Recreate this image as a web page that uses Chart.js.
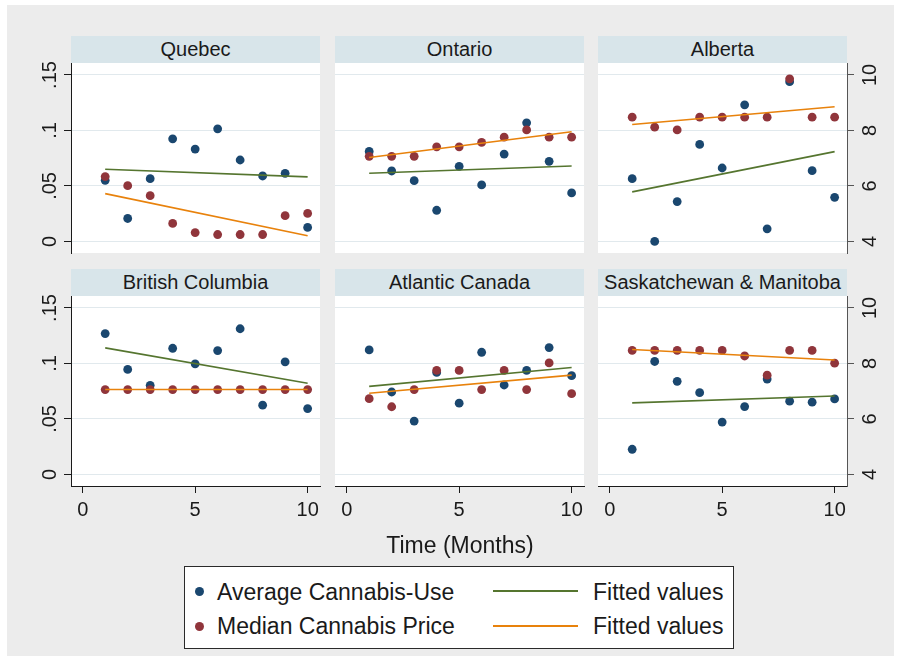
<!DOCTYPE html>
<html>
<head>
<meta charset="utf-8">
<script src="https://cdn.jsdelivr.net/npm/chart.js@4.4.1/dist/chart.umd.min.js"></script>
<style>
  html, body { margin: 0; padding: 0; background: #ffffff; width: 901px; height: 662px; overflow: hidden;
    font-family: "Liberation Sans", Arial, sans-serif; color: #1a1a1a; }
  #region { position: absolute; left: 7px; top: 5px; width: 887px; height: 651px; background: #ececec; }
  .strip { position: absolute; height: 27px; line-height: 27px; background: #d8e5ea; text-align: center;
    font-size: 20px; white-space: nowrap; }
  .panel { position: absolute; }
  .panel canvas { display: block; }
  #xtitle { position: absolute; left: 330px; width: 260px; top: 531.5px; line-height: 26px; font-size: 23px; text-align: center; }
  #legend { position: absolute; left: 184px; top: 566px; width: 550px; height: 83px; box-sizing: border-box;
    background: #ffffff; border: 1px solid #2a2a2a; }
  .key-dot { position: absolute; width: 9px; height: 9px; border-radius: 50%; }
  .key-line { position: absolute; height: 2px; width: 85px; }
  .key-text { position: absolute; line-height: 26px; font-size: 23px; white-space: nowrap; }
</style>
</head>
<body>
<div id="region"></div>
<div id="stage"></div>
<div id="xtitle">Time (Months)</div>
<div id="legend"></div>
<div class="key-dot" style="left:195px; top:586.5px; background:#1a476f"></div>
<div class="key-text" style="left:217px; top:578.8px">Average Cannabis-Use</div>
<div class="key-line" style="left:493px; top:590px; background:#55752f"></div>
<div class="key-text" style="left:593px; top:578.8px">Fitted values</div>
<div class="key-dot" style="left:195px; top:621.5px; background:#90353b"></div>
<div class="key-text" style="left:217px; top:613.1px">Median Cannabis Price</div>
<div class="key-line" style="left:493px; top:625px; background:#e8820c"></div>
<div class="key-text" style="left:593px; top:613.1px">Fitted values</div>

<script>
// ---- data -------------------------------------------------------------
const months = [1, 2, 3, 4, 5, 6, 7, 8, 9, 10];
const regions = ['Quebec', 'Ontario', 'Alberta', 'British Columbia', 'Atlantic Canada', 'Saskatchewan & Manitoba'];

// average cannabis use (left axis)
const useQuebec   = [0.0551, 0.0207, 0.0566, 0.0925, 0.0832, 0.1015, 0.0734, 0.0590, 0.0614, 0.0126];
const useOntario  = [0.0811, 0.0635, 0.0548, 0.0281, 0.0677, 0.0509, 0.0787, 0.1069, 0.0722, 0.0437];
const useAlberta  = [0.0566, 0.0000, 0.0359, 0.0874, 0.0662, 0.1231, 0.0114, 0.1440, 0.0638, 0.0398];
const useBC       = [0.1269, 0.0946, 0.0803, 0.1137, 0.0997, 0.1116, 0.1313, 0.0624, 0.1015, 0.0594];
const useAtlantic = [0.1122, 0.0743, 0.0481, 0.0919, 0.0642, 0.1101, 0.0806, 0.0937, 0.1143, 0.0890];
const useSaskMan  = [0.0227, 0.1018, 0.0839, 0.0737, 0.0472, 0.0612, 0.0860, 0.0660, 0.0651, 0.0681];

// median cannabis price (right axis)
const priceQuebec   = [6.34, 6.01, 5.65, 4.65, 4.32, 4.25, 4.25, 4.25, 4.93, 5.01];
const priceOntario  = [7.07, 7.07, 7.07, 7.41, 7.41, 7.57, 7.76, 8.02, 7.76, 7.76];
const priceAlberta  = [8.48, 8.12, 8.02, 8.48, 8.48, 8.48, 8.48, 9.86, 8.48, 8.48];
const priceBC       = [7.06, 7.06, 7.06, 7.06, 7.06, 7.06, 7.06, 7.06, 7.06, 7.06];
const priceAtlantic = [6.73, 6.44, 7.06, 7.75, 7.75, 7.06, 7.75, 7.06, 8.02, 6.91];
const priceSaskMan  = [8.47, 8.47, 8.47, 8.47, 8.47, 8.27, 7.58, 8.47, 8.47, 8.01];

// axis ticks
const monthTicks = [0, 5, 10];
const useTicks = [0, 0.05, 0.1, 0.15];
const useTickLabels = ['0', '.05', '.1', '.15'];
const priceTicks = [4, 6, 8, 10];
const priceTickLabels = ['4', '6', '8', '10'];

const useSeries = [useQuebec, useOntario, useAlberta, useBC, useAtlantic, useSaskMan];
const priceSeries = [priceQuebec, priceOntario, priceAlberta, priceBC, priceAtlantic, priceSaskMan];

// ---- styling / geometry ------------------------------------------------
const NAVY = '#1a476f', MAROON = '#90353b', GREEN = '#55752f', ORANGE = '#e8820c';
const GRID = '#e1e9ed', AXIS = '#1a1a1a', AXIS_R = '#555555', TEXT = '#1a1a1a';
const FONT = '"Liberation Sans", Arial, sans-serif';

const colLefts = [71, 335, 598];
const rowTops = [63, 296];
const plotW = 249, plotH = 190;
const MARGIN = { left: 70, right: 60, top: 10, bottom: 60 };
const X_AXIS_H = 40;

const X_MIN = -0.52, X_MAX = 10.55;
const USE_MIN = -0.0104, USE_MAX = 0.1608;
const PRICE_MIN = 4 + USE_MIN * 40, PRICE_MAX = 4 + USE_MAX * 40;

// least-squares line through (xs, ys), returned at the first and last x
function linearFit(xs, ys) {
  const n = xs.length;
  const mx = xs.reduce((a, b) => a + b, 0) / n;
  const my = ys.reduce((a, b) => a + b, 0) / n;
  let sxy = 0, sxx = 0;
  for (let i = 0; i < n; i++) { sxy += (xs[i] - mx) * (ys[i] - my); sxx += (xs[i] - mx) ** 2; }
  const b = sxy / sxx, a = my - b * mx;
  const x0 = xs[0], x1 = xs[n - 1];
  return [{ x: x0, y: a + b * x0 }, { x: x1, y: a + b * x1 }];
}

// white plot region behind the grid
const plotBackground = {
  id: 'plotBackground',
  beforeDraw(chart) {
    const { ctx, chartArea: a } = chart;
    ctx.save();
    ctx.fillStyle = '#ffffff';
    ctx.fillRect(a.left, a.top, a.right - a.left, a.bottom - a.top);
    ctx.restore();
  }
};

// vertical (rotated) y-axis tick labels
const verticalTickLabels = {
  id: 'verticalTickLabels',
  afterDraw(chart, args, opts) {
    const { ctx, chartArea: a } = chart;
    (opts.axes || []).forEach(ax => {
      const scale = chart.scales[ax.id];
      if (!scale) return;
      const x = ax.side === 'left' ? a.left - ax.offset : a.right + ax.offset;
      ctx.save();
      ctx.font = '20px ' + FONT;
      ctx.fillStyle = TEXT;
      ctx.textAlign = 'center';
      ctx.textBaseline = 'middle';
      scale.ticks.forEach((t, i) => {
        const y = scale.getPixelForValue(t.value);
        ctx.save();
        ctx.translate(x, y);
        ctx.rotate(-Math.PI / 2);
        ctx.fillText(ax.labels[i], 0, 0);
        ctx.restore();
      });
      ctx.restore();
    });
  }
};

const stage = document.getElementById('stage');

regions.forEach((name, k) => {
  const row = Math.floor(k / 3), col = k % 3;
  const left = colLefts[col], top = rowTops[row];
  const showX = row === 1;

  const strip = document.createElement('div');
  strip.className = 'strip';
  strip.style.left = left + 'px';
  strip.style.top = (top - 27) + 'px';
  strip.style.width = plotW + 'px';
  strip.textContent = name;
  stage.appendChild(strip);

  const box = document.createElement('div');
  box.className = 'panel';
  box.style.left = (left - MARGIN.left) + 'px';
  box.style.top = (top - MARGIN.top) + 'px';
  const cv = document.createElement('canvas');
  cv.width = MARGIN.left + plotW + MARGIN.right;
  cv.height = MARGIN.top + plotH + MARGIN.bottom;
  box.appendChild(cv);
  stage.appendChild(box);

  const use = useSeries[k], price = priceSeries[k];
  const sideAxes = [];
  if (col === 0) sideAxes.push({ id: 'y', side: 'left', offset: 21, labels: useTickLabels });
  if (col === 2) sideAxes.push({ id: 'y2', side: 'right', offset: 23, labels: priceTickLabels });

  const padding = {
    left: MARGIN.left, right: MARGIN.right, top: MARGIN.top,
    bottom: showX ? MARGIN.bottom - X_AXIS_H : MARGIN.bottom
  };

  new Chart(cv, {
    type: 'scatter',
    data: {
      datasets: [
        { type: 'scatter', label: 'Average Cannabis-Use', yAxisID: 'y', order: 4,
          data: months.map((m, i) => ({ x: m, y: use[i] })),
          backgroundColor: NAVY, borderWidth: 0, pointRadius: 4.4 },
        { type: 'scatter', label: 'Median Cannabis Price', yAxisID: 'y2', order: 3,
          data: months.map((m, i) => ({ x: m, y: price[i] })),
          backgroundColor: MAROON, borderWidth: 0, pointRadius: 4.4 },
        { type: 'line', label: 'Fitted values', yAxisID: 'y', order: 2,
          data: linearFit(months, use), borderColor: GREEN, borderWidth: 1.6, pointRadius: 0, fill: false },
        { type: 'line', label: 'Fitted values', yAxisID: 'y2', order: 1,
          data: linearFit(months, price), borderColor: ORANGE, borderWidth: 1.6, pointRadius: 0, fill: false }
      ]
    },
    options: {
      responsive: false,
      devicePixelRatio: 1,
      animation: false,
      events: [],
      layout: { padding },
      plugins: {
        legend: { display: false },
        tooltip: { enabled: false },
        verticalTickLabels: { axes: sideAxes }
      },
      scales: {
        x: {
          type: 'linear', min: X_MIN, max: X_MAX,
          display: showX,
          afterBuildTicks: s => { s.ticks = monthTicks.map(v => ({ value: v })); },
          afterFit: s => { s.height = showX ? X_AXIS_H : 0; },
          grid: { display: true, drawOnChartArea: false, drawTicks: true, tickLength: 7, tickColor: AXIS, tickWidth: 1 },
          border: { display: true, color: AXIS, width: 1 },
          ticks: { autoSkip: false, maxRotation: 0, minRotation: 0, padding: 5, color: TEXT,
                   font: { family: FONT, size: 20 }, callback: v => String(v) }
        },
        y: {
          type: 'linear', position: 'left', min: USE_MIN, max: USE_MAX,
          afterBuildTicks: s => { s.ticks = useTicks.map(v => ({ value: v })); },
          afterFit: s => { s.width = 0; },
          grid: { color: GRID, lineWidth: 1, drawTicks: col === 0, tickLength: 7, tickColor: AXIS, tickWidth: 1 },
          border: { display: col === 0, color: AXIS, width: 1 },
          ticks: { display: false }
        },
        y2: {
          type: 'linear', position: 'right', min: PRICE_MIN, max: PRICE_MAX,
          display: col === 2,
          afterBuildTicks: s => { s.ticks = priceTicks.map(v => ({ value: v })); },
          afterFit: s => { s.width = 0; },
          grid: { drawOnChartArea: false, drawTicks: true, tickLength: 7, tickColor: AXIS_R, tickWidth: 1 },
          border: { display: true, color: AXIS_R, width: 1 },
          ticks: { display: false }
        }
      }
    },
    plugins: [plotBackground, verticalTickLabels]
  });
});
</script>
</body>
</html>
